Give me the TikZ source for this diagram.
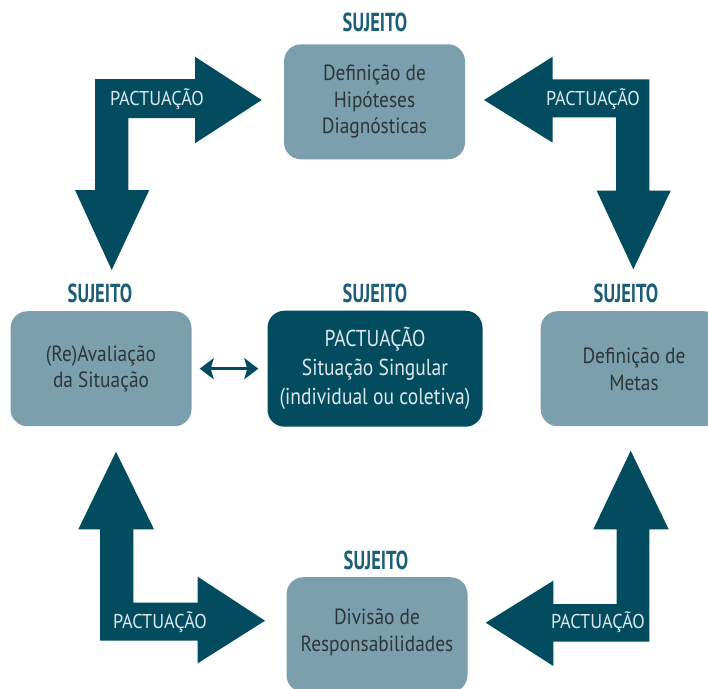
\documentclass[tikz,border=0pt]{standalone}
\usepackage{fontspec}
\setmainfont{PT Sans}
\newfontfamily\bodyfont[FakeStretch=0.88]{PT Sans}
\newfontfamily\centfont[FakeStretch=0.85]{PT Sans}
\newfontfamily\condfont[FakeStretch=0.71]{PT Sans}
\newfontfamily\labfont[FakeStretch=0.91]{PT Sans}
\usetikzlibrary{arrows.meta}
\definecolor{dteal}{HTML}{034C5F}
\definecolor{lbox}{HTML}{7C9FAE}
\definecolor{sujc}{HTML}{1B5E75}
\definecolor{boxtxt}{HTML}{2C3639}
\definecolor{lighttxt}{HTML}{DCE8EC}
\tikzset{
  lightbox/.style={fill=lbox, rounded corners=17pt, minimum width=181pt, minimum height=115pt,
    align=center, text=boxtxt, font=\bodyfont\fontsize{22}{26.5}\selectfont, inner sep=0pt},
  boxtext/.style={align=center, text=boxtxt, font=\bodyfont\fontsize{22}{27}\selectfont, inner sep=0pt},
  darkbox/.style={fill=dteal, rounded corners=17pt, minimum width=215pt, minimum height=116pt,
    align=center, text=lighttxt, font=\centfont\fontsize{23}{29}\selectfont, inner sep=0pt},
  sujlabel/.style={text=sujc, font=\condfont\bfseries\fontsize{26}{28}\selectfont, inner sep=0pt},
  pactlabel/.style={text=lighttxt, font=\labfont\fontsize{20}{22}\selectfont, inner sep=0pt},
  blockarrow/.style={fill=dteal},
  dbl/.style={draw=dteal, line width=3.5pt, {Stealth[length=14pt,width=21pt,inset=3pt]}-{Stealth[length=14pt,width=21pt,inset=3pt]}}
}
\begin{document}
\begin{tikzpicture}[x=1pt,y=-1pt]
\useasboundingbox (0,0) rectangle (708,688);
\clip (0,0) rectangle (708,688);
% boxes
\node[lightbox] (top) at (374.5,101.8) {Definição de\\Hipóteses\\Diagnósticas};
\node[lightbox] (left) at (101,368.7) {(Re)Avaliação\\da Situação};
\node[darkbox] (center) at (375,368.7) {PACTUAÇÃO\\Situação Singular\\(individual ou coletiva)};
\node[lightbox, minimum width=180pt] (right) at (630.7,368.7) {};
\node[boxtext] (righttext) at (634,369) {Definição de\\Metas};
\node[lightbox] (bottom) at (377,634.7) {};
\node[boxtext] (bottomtext) at (377,632) {Divisão de\\Responsabilidades};
% SUJEITO labels
\node[sujlabel] (s1) at (375,22.7) {SUJEITO};
\node[sujlabel] (s2) at (100,293.3) {SUJEITO};
\node[sujlabel] (s3) at (375,293.3) {SUJEITO};
\node[sujlabel] (s4) at (626,293.3) {SUJEITO};
\node[sujlabel] (s5) at (376,560) {SUJEITO};
% block arrows
\fill[blockarrow] (111.7,270) -- (149.3,190) -- (128.3,190) -- (128.3,118) -- (195,118)
  -- (195,143.3) -- (261.7,100) -- (195,56.7) -- (195,79) -- (95,79) -- (95,190) -- (75,190) -- cycle;
\fill[blockarrow] (633.3,269.3) -- (670.7,190.7) -- (649.3,190.7) -- (649.3,79.3) -- (552.7,79.3)
  -- (552.7,56.7) -- (484,100) -- (552.7,142.7) -- (552.7,117.3) -- (616,117.3) -- (616,190.7) -- (596.7,190.7) -- cycle;
\fill[blockarrow] (116,451.7) -- (154,529.3) -- (133.3,529.3) -- (133.3,602.7) -- (197.7,602.7)
  -- (197.7,576.7) -- (265,620.7) -- (197.7,663.3) -- (197.7,640.7) -- (100,640.7) -- (100,529.3) -- (78.3,529.3) -- cycle;
\fill[blockarrow] (630.7,450.7) -- (668.7,529.3) -- (649.3,529.3) -- (649.3,641.7) -- (553.3,641.7)
  -- (553.3,666) -- (485.7,622.7) -- (553.3,580.7) -- (553.3,604) -- (616.7,604) -- (616.7,529.3) -- (593.3,529.3) -- cycle;
% arrow labels
\node[pactlabel] (p1) at (157,99) {PACTUAÇÃO};
\node[pactlabel] (p2) at (593,99) {PACTUAÇÃO};
\node[pactlabel] (p3) at (160,622) {PACTUAÇÃO};
\node[pactlabel] (p4) at (598,622) {PACTUAÇÃO};
% double arrow
\draw[dbl, shorten <=8pt, shorten >=9pt] (left.east) -- (center.west);
\end{tikzpicture}
\end{document}
